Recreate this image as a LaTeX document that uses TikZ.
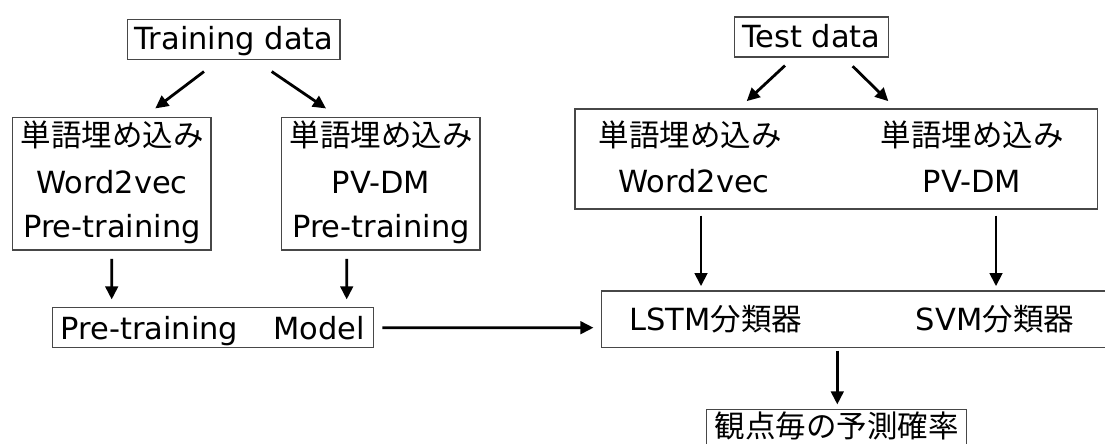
\documentclass[tikz,border=0pt]{standalone}
\usepackage{fontspec}
\setmainfont{DejaVu Sans}
\newfontfamily\jp{Noto Sans CJK JP}
\usetikzlibrary{arrows.meta,calc}

\begin{document}
\begin{tikzpicture}[x=1pt,y=-1pt,
  box/.style={draw=black!72, line width=1.1pt, rectangle, inner sep=0pt},
  lbl/.style={anchor=base, inner sep=0pt, font=\fontsize{30.5}{36}\selectfont},
  arr/.style={-{Triangle[length=13pt,width=12.5pt]}, line width=2.8pt}]
\useasboundingbox (0,0) rectangle (1105,444);
\clip (0,0) rectangle (1105,444);

% frames
\node[box, minimum width=212.3pt, minimum height=40pt] (train) at (233.85,39.3) {};
\node[box, minimum width=154pt, minimum height=40pt] (test) at (811.3,37) {};
\node[box, minimum width=198.3pt, minimum height=132.7pt] (emb1) at (111.85,183.65) {};
\node[box, minimum width=198.3pt, minimum height=132.7pt] (emb2) at (380.85,183.65) {};
\node[box, minimum width=522.3pt, minimum height=100pt] (temb) at (836.15,159) {};
\node[box, minimum width=320.6pt, minimum height=40pt] (model) at (213,327.3) {};
\node[box, minimum width=513.3pt, minimum height=56.7pt] (clf) at (858.35,319.35) {};
\node[box, minimum width=260pt, minimum height=41.7pt] (out) at (836.7,430.15) {};

% texts
\node[lbl] (trainT) at (234,49.3) {Training data};
\node[lbl] (testT) at (811.3,48) {Test data};

\node[lbl] (e1a) at (112,146) {\jp 単語埋め込み};
\node[lbl] (e1b) at (112,193) {Word2vec};
\node[lbl] (e1c) at (112,237.5) {Pre-training};

\node[lbl] (e2a) at (381,146) {\jp 単語埋め込み};
\node[lbl] (e2b) at (381,193) {PV-DM};
\node[lbl] (e2c) at (381,237.5) {Pre-training};

\node[lbl] (t1a) at (690,146) {\jp 単語埋め込み};
\node[lbl] (t1b) at (694,192) {Word2vec};
\node[lbl] (t2a) at (972,146) {\jp 単語埋め込み};
\node[lbl] (t2b) at (972,192) {PV-DM};

\node[lbl] (modelT) at (212.75,339) {Pre-training\hspace{35pt}Model};
\node[lbl] (lstmT) at (716,330.7) {LSTM{\jp 分類器}};
\node[lbl] (svmT) at (995,330.7) {SVM{\jp 分類器}};
\node[lbl] (outT) at (836.7,437) {\jp 観点毎の予測確率};

% connectors
\draw[arr] ($(train.south)+(-29.85,11.7)$) -- ($(emb1.north)+(43.45,-8.3)$);
\draw[arr] ($(train.south)+(37.85,11.7)$) -- ($(emb2.north)+(-54.85,-8.3)$);
\draw[arr] ($(test.south)+(-26.3,8)$) -- ($(temb.north)+(-89.45,-7.3)$);
\draw[arr] ($(test.south)+(41.4,8.7)$) -- ($(temb.north)+(52.15,-7.3)$);
\draw[arr] ($(emb1.south)+(-0.15,8.3)$) -- ($(model.north)+(-101.3,-7.3)$);
\draw[arr] ($(emb2.south)+(-34.15,8.3)$) -- ($(model.north)+(133.7,-7.3)$);
\draw[arr] ($(temb.south)+(-135.15,6)$) -- ($(clf.north)+(-157.35,-4.3)$);
\draw[arr] ($(temb.south)+(159.85,6)$) -- ($(clf.north)+(137.65,-4.3)$);
\draw[arr] ($(model.east)+(8.4,0.4)$) -- ($(clf.west)+(-7.7,8.35)$);
\draw[arr] ($(clf.south)+(-21.05,2.3)$) -- ($(out.north)+(0.6,-4.3)$);
\end{tikzpicture}
\end{document}
